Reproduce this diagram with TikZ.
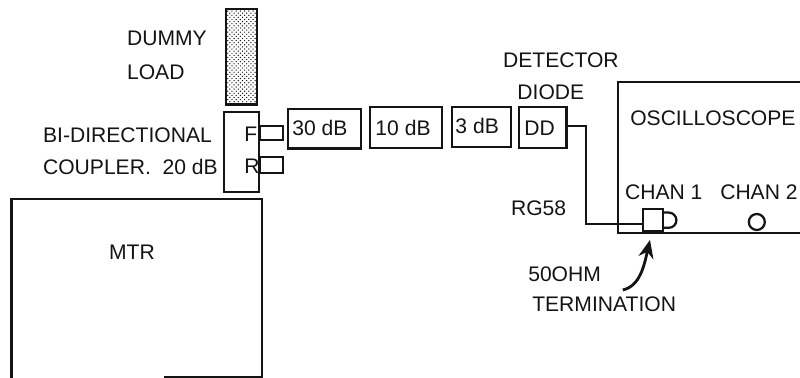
\documentclass[tikz,border=0pt]{standalone}
\usepackage{fontspec}
\setmainfont{Liberation Sans}
\usetikzlibrary{arrows.meta,positioning,calc,patterns}
\definecolor{inkblack}{HTML}{141414}

\begin{document}
\begin{tikzpicture}[
    font=\fontsize{15}{18}\selectfont,
    >={Stealth[length=4.5mm, width=3.8mm]},
    unit/.style={draw=inkblack, line width=1.6pt, rectangle, inner sep=0pt, outer sep=0pt, anchor=north west},
    tag/.style={text=inkblack, inner sep=0pt, anchor=base west},
    wire/.style={draw=inkblack, line width=1.4pt},
    frame/.style={draw=inkblack, line width=1.6pt},
]
    \useasboundingbox (0, 0) rectangle (20, 9.45);

    % Dummy load and coupler
    \node[unit, minimum width=0.78cm, minimum height=2.38cm, fill=gray!45, pattern=crosshatch dots, pattern color=inkblack] (load) at (5.65, 9.22) {};
    \node[unit, minimum width=0.87cm, minimum height=2.0cm] (coupler) at (5.6, 6.65) {};
    \node[unit, minimum width=0.58cm, minimum height=0.35cm] (stubf) at (6.5, 6.3) {};
    \node[unit, minimum width=0.58cm, minimum height=0.4cm] (stubr) at (6.5, 5.53) {};

    % Attenuators
    \node[unit, minimum width=1.82cm, minimum height=0.98cm] (att30) at (7.2, 6.72) {};
    \node[unit, minimum width=1.8cm, minimum height=1.02cm] (att10) at (9.25, 6.77) {};
    \node[unit, minimum width=1.47cm, minimum height=1.0cm] (att3) at (11.3, 6.77) {};
    \node[unit, minimum width=1.18cm, minimum height=1.02cm] (diode) at (12.98, 6.77) {};

    % MTR
    \draw[frame] (0.29, 0) |- (6.55, 4.475) -- (6.55, 0.03) -- (4.1, 0.03);

    % Oscilloscope
    \draw[frame] (20, 7.4) -| (15.45, 3.62) -- (20, 3.62);
    \node[unit, minimum width=0.5cm, minimum height=0.55cm] (term) at (16.08, 4.22) {};
    \draw[frame] ($(term.east)+(0,0.19)$) -- ++(0.14,0) arc[start angle=90, end angle=-90, radius=0.19] -- ++(-0.14,0);
    \node[draw=inkblack, line width=1.6pt, circle, minimum size=0.4cm, inner sep=0pt] (chan2) at (18.92, 3.9) {};

    % Cable and arrow
    \coordinate (cablebend) at (14.65, 6.3);
    \coordinate (cablelow) at (14.65, 3.85);
    \draw[wire] (diode.east |- cablebend) -- (cablebend) -- (cablelow) -- (term.west |- cablelow);
    \coordinate (arrowstart) at (15.57, 2.2);
    \coordinate (arrowend) at (16.25, 3.45);
    \draw[->, frame, line width=2pt] (arrowstart) .. controls (16.0, 2.3) and (16.1, 2.8) .. (arrowend);

    % Labels
    \node[tag] (lbldummy) at (3.17, 8.32) {DUMMY};
    \node[tag] (lblload) at (3.17, 7.45) {LOAD};
    \node[tag] (lblbi) at (1.07, 5.875) {BI-DIRECTIONAL};
    \node[tag] (lblcoup) at (1.07, 5.08) {COUPLER.\ \ 20 dB};
    \node[tag] (lblmtr) at (2.72, 2.97) {MTR};
    \node[tag] (lblf) at (6.1, 5.9) {F};
    \node[tag] (lblr) at (6.1, 5.12) {R};
    \node[tag] (lbl30) at (7.3, 6.05) {30 dB};
    \node[tag] (lbl10) at (9.38, 6.07) {10 dB};
    \node[tag] (lbl3) at (11.38, 6.1) {3 dB};
    \node[tag] (lbldd) at (13.1, 6.05) {DD};
    \node[tag] (lbldet) at (12.57, 7.75) {DETECTOR};
    \node[tag] (lbldio) at (12.93, 6.95) {DIODE};
    \node[tag] (lblosc) at (15.75, 6.32) {OSCILLOSCOPE};
    \node[tag] (lblch1) at (15.62, 4.45) {CHAN 1};
    \node[tag] (lblch2) at (18.0, 4.45) {CHAN 2};
    \node[tag] (lblrg) at (12.77, 4.05) {RG58};
    \node[tag] (lbl50) at (13.2, 2.42) {50OHM};
    \node[tag] (lblterm) at (13.3, 1.65) {TERMINATION};
\end{tikzpicture}
\end{document}
